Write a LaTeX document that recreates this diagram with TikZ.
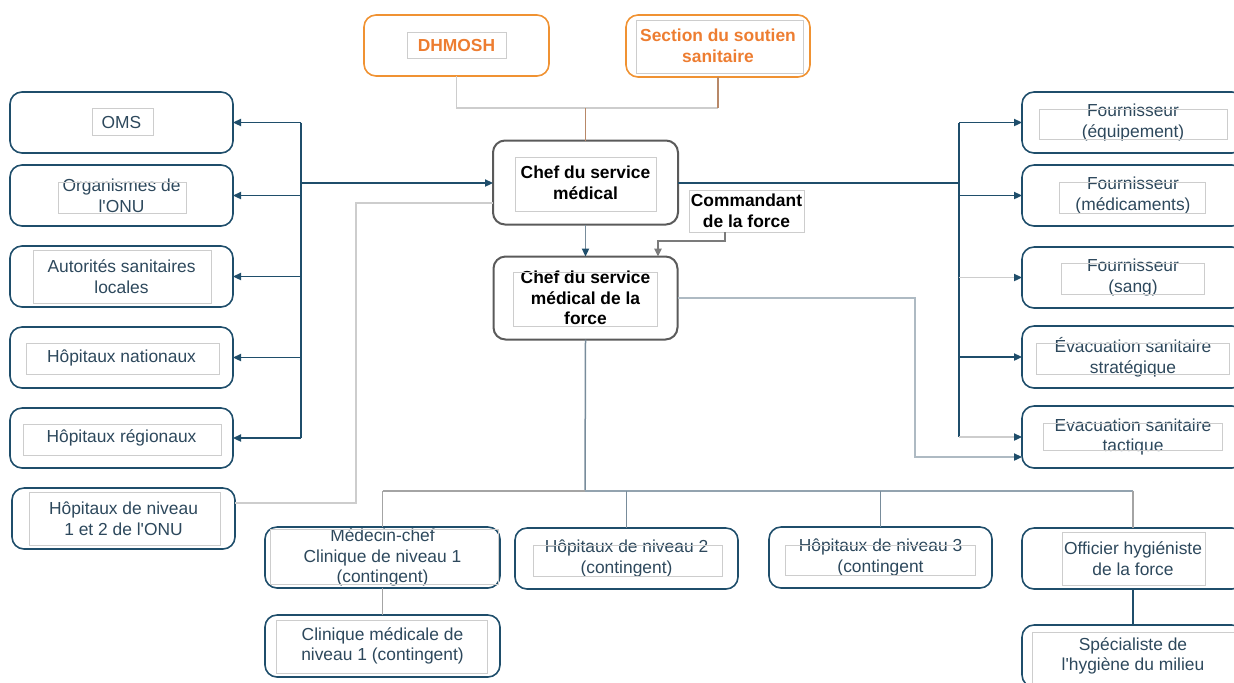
\documentclass[tikz,border=0pt]{standalone}
\usepackage{fontspec}
\setmainfont{Liberation Sans}
\usetikzlibrary{positioning,arrows.meta}

\definecolor{navy}{RGB}{31,78,107}
\definecolor{navytxt}{RGB}{45,72,92}
\definecolor{orng}{RGB}{240,146,50}
\definecolor{orngtxt}{RGB}{237,125,49}
\definecolor{brwn}{RGB}{184,136,104}
\definecolor{lgry}{RGB}{205,205,205}
\definecolor{mgry}{RGB}{120,140,155}
\definecolor{dgry}{RGB}{90,90,90}

\newcommand{\apos}{\textquotesingle}

\tikzset{
	sz/.style 2 args={minimum width=#1*0.5pt, minimum height=#2*0.5pt},
	box/.style={draw=navy, line width=0.8pt, rounded corners=6pt, text=navytxt,
		align=center, inner sep=0pt, outer sep=0pt, font=\fontsize{8.7}{10.3}\selectfont},
	obox/.style={box, draw=orng, text=orngtxt, font=\fontsize{8.7}{10.3}\selectfont\bfseries},
	cbox/.style={box, draw=dgry, line width=1pt, text=black, font=\fontsize{8.7}{10.3}\selectfont\bfseries},
	frm/.style={draw=lgry, line width=0.5pt},
	link/.style={draw=navy, line width=0.75pt},
	arr/.style={-{Triangle[length=4pt,width=3.6pt,color=navy]}},
}

\begin{document}
\begin{tikzpicture}[x=0.5pt,y=-0.5pt]
	\useasboundingbox (0,0) rectangle (1234,682);
	\clip (0,0) rectangle (1234,682);
	%% haut
	\node[obox, sz={185}{61}] (dhmosh) at (456.5,45.5) {DHMOSH};
	\node[obox, sz={184}{62}] (sect) at (718,46) {Section du soutien\\sanitaire};
	\draw[frm] (407,32) rectangle (506,58);
	\draw[frm] (636,20) rectangle (803,73);
	%% centre
	\node[cbox, sz={185}{84}] (chef) at (585.5,182.5) {Chef du service\\médical};
	\node[cbox, sz={184}{83}, below=16pt of chef] (cforce) {Chef du service\\médical de la\\force};
	\node[cbox, draw=lgry, line width=0.5pt, rounded corners=0pt, sz={115}{42}] (cmdt) at (746.5,211) {Commandant\\de la force};
	\draw[frm] (515,157) rectangle (656,211);
	\draw[frm] (513,272) rectangle (657,326);
	%% colonne gauche
	\node[box, sz={223}{61}] (oms) at (121.5,122.5) {OMS};
	\node[box, sz={223}{61}] (onu) at (121.5,195.5) {Organismes de\\l\apos ONU};
	\node[box, sz={223}{61}] (autor) at (121.5,276.5) {Autorités sanitaires\\locales};
	\node[box, sz={223}{61}] (hnat) at (121.5,357.5) {Hôpitaux nationaux};
	\node[box, sz={223}{60}] (hreg) at (121.5,438) {Hôpitaux régionaux};
	\node[box, sz={223}{61}] (hniv12) at (123.5,518.5) {Hôpitaux de niveau\\1 et 2 de l\apos ONU};
	\draw[frm] (92,108) rectangle (153,135);
	\draw[frm] (58,182) rectangle (186,213);
	\draw[frm] (33,250) rectangle (211,303);
	\draw[frm] (26,343) rectangle (219,374);
	\draw[frm] (23,424) rectangle (221,455);
	\draw[frm] (29,492) rectangle (220,545);
	%% colonne droite
	\node[box, sz={222}{61}] (fequip) at (1133,122.5) {Fournisseur\\(équipement)};
	\node[box, sz={222}{61}] (fmed) at (1133,195.5) {Fournisseur\\(médicaments)};
	\node[box, sz={222}{61}] (fsang) at (1133,277.5) {Fournisseur\\(sang)};
	\node[box, sz={222}{62}] (evstrat) at (1133,357) {Évacuation sanitaire\\stratégique};
	\node[box, sz={222}{62}] (evtact) at (1133,437) {Evacuation sanitaire\\tactique};
	\draw[frm] (1039,109) rectangle (1227,139);
	\draw[frm] (1059,182) rectangle (1205,213);
	\draw[frm] (1061,263) rectangle (1204,294);
	\draw[frm] (1036,343) rectangle (1229,374);
	\draw[frm] (1043,423) rectangle (1222,450);
	%% bas
	\node[box, sz={235}{61}] (medchef) at (382.5,557.5) {Médecin-chef\\Clinique de niveau 1\\(contingent)};
	\node[box, sz={235}{62}] (clin) at (382.5,646) {Clinique médicale de\\niveau 1 (contingent)};
	\node[box, sz={223}{61}] (hniv2) at (626.5,558.5) {Hôpitaux de niveau 2\\(contingent)};
	\node[box, sz={223}{61}] (hniv3) at (880.5,557.5) {Hôpitaux de niveau 3\\(contingent};
	\node[box, sz={222}{61}] (offhyg) at (1133,558.5) {Officier hygiéniste\\de la force};
	\node[box, sz={222}{62}] (spec) at (1133,656) {Spécialiste de\\l\apos hygiène du milieu};
	\draw[frm] (270,529) rectangle (498,584);
	\draw[frm] (276,620) rectangle (487,673);
	\draw[frm] (533,545) rectangle (722,576);
	\draw[frm] (785,545) rectangle (975,575);
	\draw[frm] (1062,532) rectangle (1205,585);
	\draw[frm] (1032,632) rectangle (1242,690);
	%% points de jonction
	\coordinate (jt) at (585.5,108);
	\coordinate (ls) at (301,183);
	\coordinate (jl) at (356,203);
	\coordinate (rs) at (959,183);
	\coordinate (rt) at (915,457);
	\coordinate (ck) at (658,241);
	\coordinate (jb) at (585,491);
	%% liens du haut
	\draw[lgry, line width=0.75pt] (dhmosh.south) |- (sect.south |- jt);
	\draw[brwn, line width=0.75pt] (sect.south) -- (sect.south |- jt);
	\draw[brwn, line width=0.75pt] (jt) -- (chef.north);
	%% liens gauche
	\draw[link, arr] (ls) -- (ls -| chef.west);
	\draw[link] (oms.east -| ls) -- (hreg.east -| ls);
	\foreach \n in {oms,onu,autor,hnat,hreg}
		\draw[link, arr] (\n.east -| ls) -- (\n.east);
	\draw[lgry, line width=0.75pt] ([yshift=7.75pt]hniv12.east) -| (jl) -- (jl -| chef.west);
	%% liens droite
	\draw[link] (rs -| chef.east) -- (rs);
	\draw[link] (fequip.west -| rs) -- (evtact.west -| rs);
	\foreach \n in {fequip,fmed,evstrat}
		\draw[link, arr] (\n.west -| rs) -- (\n.west);
	\foreach \n in {fsang,evtact}
		\draw[lgry, line width=0.75pt, arr] (\n.west -| rs) -- (\n.west);
	\draw[mgry!60, line width=0.75pt, arr] (cforce.east) -| (rt) -- (evtact.west |- rt);
	%% liens centre
	\draw[mgry, line width=0.75pt, arr] (chef.south) -- (cforce.north);
	\draw[dgry!80, line width=1pt, -{Triangle[length=4pt,width=3.6pt]}] ([xshift=-10.75pt]cmdt.south) |- (ck) -- (ck |- cforce.north);
	%% liens du bas
	\draw[mgry, line width=0.75pt] (cforce.south) -- (jb);
	\draw[lgry!80!black, line width=0.75pt] (medchef.north |- jb) -- (jb);
	\draw[mgry!80, line width=0.75pt] (jb) -- (offhyg.north |- jb);
	\draw[lgry!80!black, line width=0.75pt] (medchef.north |- jb) -- (medchef.north);
	\draw[mgry, line width=0.75pt] (hniv2.north |- jb) -- (hniv2.north);
	\draw[mgry, line width=0.75pt] (hniv3.north |- jb) -- (hniv3.north);
	\draw[lgry!80!black, line width=0.75pt] (offhyg.north |- jb) -- (offhyg.north);
	\draw[lgry!80!black, line width=0.75pt] (medchef.south) -- (clin.north);
	\draw[link] (offhyg.south) -- (spec.north);
\end{tikzpicture}
\end{document}
